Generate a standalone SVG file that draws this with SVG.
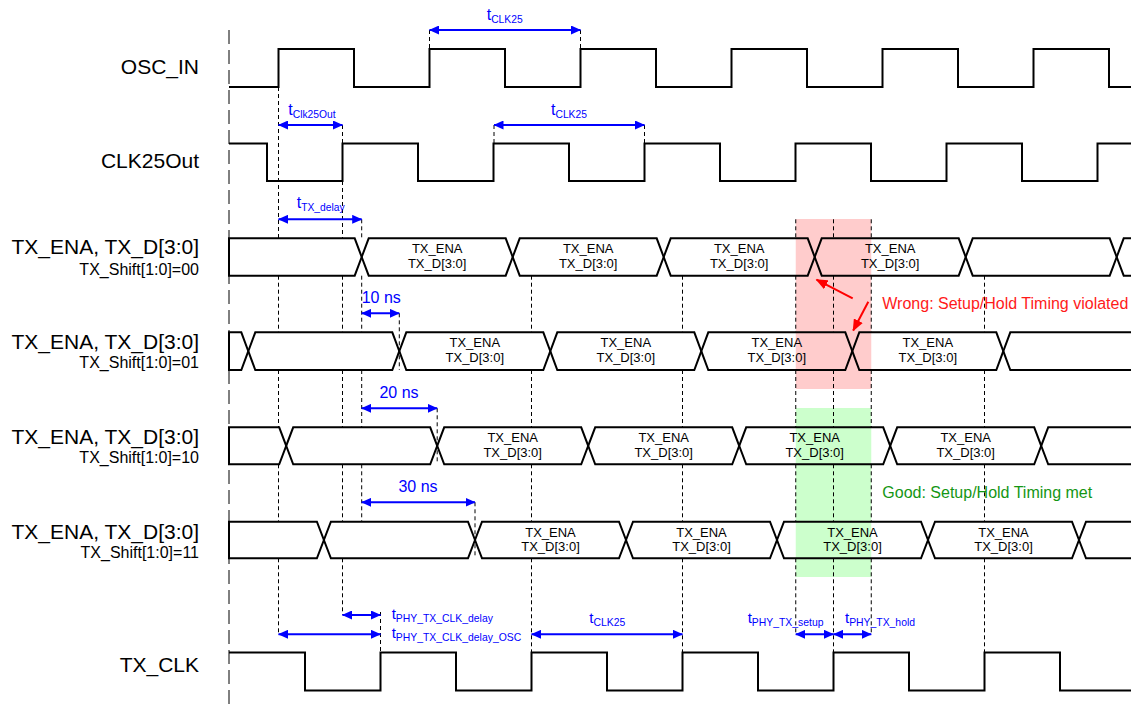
<svg xmlns="http://www.w3.org/2000/svg" width="1131" height="706" viewBox="0 0 1131 706">
<defs>
<style>
.lbl{font-family:"Liberation Sans",Arial,sans-serif;font-size:21px;fill:#000;text-anchor:end}
.sub{font-family:"Liberation Sans",Arial,sans-serif;font-size:16px;fill:#000;text-anchor:end}
.wave{fill:none;stroke:#000;stroke-width:2;stroke-linejoin:miter}
.cell{fill:none;stroke:#000;stroke-width:2;stroke-linejoin:miter}
.ct{font-family:"Liberation Sans",Arial,sans-serif;font-size:13px;fill:#000;text-anchor:middle}
.dash{fill:none;stroke:#000;stroke-width:1;stroke-dasharray:4 3}
.ldash{fill:none;stroke:#000;stroke-width:1;stroke-dasharray:14 6}
.dim{fill:none;stroke:#0000ff;stroke-width:2;marker-start:url(#ab);marker-end:url(#ab)}
.bt{font-family:"Liberation Sans",Arial,sans-serif;fill:#0000ff}
.red{fill:none;stroke:#ff0000;stroke-width:2;marker-end:url(#ar)}
</style>
<marker id="ab" viewBox="0 0 10 9" refX="9.5" refY="4.5" markerWidth="10" markerHeight="9" markerUnits="userSpaceOnUse" orient="auto-start-reverse"><path d="M0,0 L10,4.5 L0,9 z" fill="#0000ff"/></marker>
<marker id="ar" viewBox="0 0 12 10" refX="11" refY="5" markerWidth="12" markerHeight="10" markerUnits="userSpaceOnUse" orient="auto"><path d="M0,0 L12,5 L0,10 z" fill="#ff0000"/></marker>
</defs>
<rect width="1131" height="706" fill="#fff"/>

<g id="bands">
<rect x="795.75" y="219" width="75.5" height="170" fill="#ffcccc"/>
<rect x="795.75" y="408" width="75.5" height="169" fill="#ccffcc"/>
</g>

<g id="connectors">
<path class="ldash" d="M229,30 V706"/>
<path class="dash" d="M429.5,30 V49 M580.5,30 V49 M494,125 V143.5 M644.5,125 V143.5"/>
<path class="dash" d="M278.5,87 V238.3 M278.5,275.7 V332.3 M278.5,370 V427.3 M278.5,464.3 V521.7 M278.5,558.3 V634.3"/>
<path class="dash" d="M342.5,125 V238.3 M342.5,275.7 V332.3 M342.5,370 V427.3 M342.5,464.3 V521.7 M342.5,558.3 V615"/>
<path class="dash" d="M361.7,219.3 V238.3 M361.7,275.7 V332.3 M361.7,370 V427.3 M361.7,464.3 V521.7"/>
<path class="dash" d="M399.3,313.3 V370 M437.2,408.3 V464.3 M475,502.3 V558.3 M380.5,612 V652.5"/>
<path class="dash" d="M531.5,275.7 V332.3 M531.5,370 V427.3 M531.5,464.3 V521.7 M531.5,558.3 V652.5"/>
<path class="dash" d="M682.5,275.7 V332.3 M682.5,370 V427.3 M682.5,464.3 V521.7 M682.5,558.3 V652.5"/>
<path class="dash" d="M984.5,275.7 V332.3 M984.5,370 V427.3 M984.5,464.3 V521.7 M984.5,558.3 V652.5"/>
<path class="dash" d="M795.75,219.3 V238.3 M795.75,275.7 V332.3 M795.75,370 V427.3 M795.75,464.3 V521.7 M795.75,558.3 V634.3"/>
<path class="dash" d="M871.25,219.3 V238.3 M871.25,275.7 V332.3 M871.25,370 V427.3 M871.25,464.3 V521.7 M871.25,558.3 V634.3"/>
<path class="dash" d="M833.5,219.3 V238.3 M833.5,275.7 V332.3 M833.5,370 V427.3 M833.5,464.3 V521.7 M833.5,558.3 V652.5"/>

<path class="dim" d="M429.5,30 H580.5"/>
<path class="dim" d="M278.5,125 H342.5"/>
<path class="dim" d="M494,125 H644.5"/>
<path class="dim" d="M278.5,219.3 H361.7"/>
<path class="dim" d="M361.7,313.3 H399.3"/>
<path class="dim" d="M361.7,408.3 H437.2"/>
<path class="dim" d="M361.7,502.3 H475"/>
<path class="dim" d="M342.5,615 H380.5"/>
<path class="dim" d="M278.5,634.3 H380.5"/>
<path class="dim" d="M531.5,634.3 H682.5"/>
<path class="dim" d="M795.75,634.3 H833.5"/>
<path class="dim" d="M833.5,634.3 H871.25"/>

<path class="red" d="M852.7,298.3 L816.5,279.7"/>
<path class="red" d="M868.3,301.7 L853.2,330.5"/>
</g>

<g id="dim-labels">
<text class="bt" x="486.7" y="20" font-size="16">t<tspan font-size="10.3" dy="2.5">CLK25</tspan></text>
<text class="bt" x="288.3" y="115" font-size="16">t<tspan font-size="10.3" dy="2.5">Clk25Out</tspan></text>
<text class="bt" x="551" y="115" font-size="16">t<tspan font-size="10.3" dy="2.5">CLK25</tspan></text>
<text class="bt" x="296.7" y="208.3" font-size="16">t<tspan font-size="10.3" dy="2.5">TX_delay</tspan></text>
<text class="bt" x="361.7" y="302.7" font-size="16">10 ns</text>
<text class="bt" x="399" y="398.3" font-size="16" text-anchor="middle">20 ns</text>
<text class="bt" x="418" y="492.3" font-size="16" text-anchor="middle">30 ns</text>
<text class="bt" x="391.7" y="619" font-size="15">t<tspan font-size="10.4" dy="3">PHY_TX_CLK_delay</tspan></text>
<text class="bt" x="391.7" y="638.3" font-size="15">t<tspan font-size="10.4" dy="3">PHY_TX_CLK_delay_OSC</tspan></text>
<text class="bt" x="589.3" y="623" font-size="15">t<tspan font-size="10.4" dy="3">CLK25</tspan></text>
<text class="bt" x="747.7" y="623" font-size="15">t<tspan font-size="10.4" dy="3">PHY_TX_setup</tspan></text>
<text class="bt" x="845" y="623" font-size="15">t<tspan font-size="10.4" dy="3">PHY_TX_hold</tspan></text>
<text x="882.3" y="309" font-family="Liberation Sans, Arial, sans-serif" font-size="16" fill="#ff1a1a">Wrong: Setup/Hold Timing violated</text>
<text x="882.3" y="498" font-family="Liberation Sans, Arial, sans-serif" font-size="16" fill="#149614">Good: Setup/Hold Timing met</text>
</g>

<g id="osc_in">
<text class="lbl" x="199" y="74.3">OSC_IN</text>
<path class="wave" d="M229,87 H278.5 V49 H354 V87 H429.5 V49 H505 V87 H580.5 V49 H656 V87 H731.5 V49 H807 V87 H882.5 V49 H958 V87 H1033.5 V49 H1109 V87 H1131"/>
</g>

<g id="clk25out">
<text class="lbl" x="199" y="167.7">CLK25Out</text>
<path class="wave" d="M229,143.5 H267 V181 H342.5 V143.5 H418 V181 H493.5 V143.5 H569 V181 H644.5 V143.5 H720 V181 H795.5 V143.5 H871 V181 H946.5 V143.5 H1022 V181 H1097.5 V143.5 H1131"/>
</g>

<g id="tx_shift00">
<text class="lbl" x="199" y="254.3">TX_ENA, TX_D[3:0]</text>
<text class="sub" x="199" y="275">TX_Shift[1:0]=00</text>
<path class="cell" d="M229,238.3 H354.7 L361.7,257 L354.7,275.7 H229 Z"/>
<path class="cell" d="M368.7,238.3 H505.7 L512.7,257 L505.7,275.7 H368.7 L361.7,257 Z"/>
<path class="cell" d="M519.7,238.3 H656.7 L663.7,257 L656.7,275.7 H519.7 L512.7,257 Z"/>
<path class="cell" d="M670.7,238.3 H807.7 L814.7,257 L807.7,275.7 H670.7 L663.7,257 Z"/>
<path class="cell" d="M821.7,238.3 H958.7 L965.7,257 L958.7,275.7 H821.7 L814.7,257 Z"/>
<path class="cell" d="M972.7,238.3 H1109.7 L1116.7,257 L1109.7,275.7 H972.7 L965.7,257 Z"/>
<path class="cell" d="M1140,238.3 H1123.7 L1116.7,257 L1123.7,275.7 H1140"/>
<text class="ct" x="437.2" y="253.3">TX_ENA</text><text class="ct" x="437.2" y="267.8">TX_D[3:0]</text>
<text class="ct" x="588.2" y="253.3">TX_ENA</text><text class="ct" x="588.2" y="267.8">TX_D[3:0]</text>
<text class="ct" x="739.2" y="253.3">TX_ENA</text><text class="ct" x="739.2" y="267.8">TX_D[3:0]</text>
<text class="ct" x="890.2" y="253.3">TX_ENA</text><text class="ct" x="890.2" y="267.8">TX_D[3:0]</text>
</g>

<g id="tx_shift01">
<text class="lbl" x="199" y="349.3">TX_ENA, TX_D[3:0]</text>
<text class="sub" x="199" y="368.3">TX_Shift[1:0]=01</text>
<path class="cell" d="M229,332.3 H241.3 L248.3,351.15 L241.3,370 H229 Z"/>
<path class="cell" d="M255.3,332.3 H392.3 L399.3,351.15 L392.3,370 H255.3 L248.3,351.15 Z"/>
<path class="cell" d="M406.3,332.3 H543.3 L550.3,351.15 L543.3,370 H406.3 L399.3,351.15 Z"/>
<path class="cell" d="M557.3,332.3 H694.3 L701.3,351.15 L694.3,370 H557.3 L550.3,351.15 Z"/>
<path class="cell" d="M708.3,332.3 H845.3 L852.3,351.15 L845.3,370 H708.3 L701.3,351.15 Z"/>
<path class="cell" d="M859.3,332.3 H996.3 L1003.3,351.15 L996.3,370 H859.3 L852.3,351.15 Z"/>
<path class="cell" d="M1140,332.3 H1010.3 L1003.3,351.15 L1010.3,370 H1140"/>
<text class="ct" x="474.8" y="347.3">TX_ENA</text><text class="ct" x="474.8" y="361.8">TX_D[3:0]</text>
<text class="ct" x="625.8" y="347.3">TX_ENA</text><text class="ct" x="625.8" y="361.8">TX_D[3:0]</text>
<text class="ct" x="776.8" y="347.3">TX_ENA</text><text class="ct" x="776.8" y="361.8">TX_D[3:0]</text>
<text class="ct" x="927.8" y="347.3">TX_ENA</text><text class="ct" x="927.8" y="361.8">TX_D[3:0]</text>
</g>

<g id="tx_shift10">
<text class="lbl" x="199" y="444.3">TX_ENA, TX_D[3:0]</text>
<text class="sub" x="199" y="463.3">TX_Shift[1:0]=10</text>
<path class="cell" d="M229,427.3 H279.2 L286.2,445.8 L279.2,464.3 H229 Z"/>
<path class="cell" d="M293.2,427.3 H430.2 L437.2,445.8 L430.2,464.3 H293.2 L286.2,445.8 Z"/>
<path class="cell" d="M444.2,427.3 H581.2 L588.2,445.8 L581.2,464.3 H444.2 L437.2,445.8 Z"/>
<path class="cell" d="M595.2,427.3 H732.2 L739.2,445.8 L732.2,464.3 H595.2 L588.2,445.8 Z"/>
<path class="cell" d="M746.2,427.3 H883.2 L890.2,445.8 L883.2,464.3 H746.2 L739.2,445.8 Z"/>
<path class="cell" d="M897.2,427.3 H1034.2 L1041.2,445.8 L1034.2,464.3 H897.2 L890.2,445.8 Z"/>
<path class="cell" d="M1140,427.3 H1048.2 L1041.2,445.8 L1048.2,464.3 H1140"/>
<text class="ct" x="512.7" y="442.3">TX_ENA</text><text class="ct" x="512.7" y="456.8">TX_D[3:0]</text>
<text class="ct" x="663.7" y="442.3">TX_ENA</text><text class="ct" x="663.7" y="456.8">TX_D[3:0]</text>
<text class="ct" x="814.7" y="442.3">TX_ENA</text><text class="ct" x="814.7" y="456.8">TX_D[3:0]</text>
<text class="ct" x="965.7" y="442.3">TX_ENA</text><text class="ct" x="965.7" y="456.8">TX_D[3:0]</text>
</g>

<g id="tx_shift11">
<text class="lbl" x="199" y="539.3">TX_ENA, TX_D[3:0]</text>
<text class="sub" x="199" y="558.3">TX_Shift[1:0]=11</text>
<path class="cell" d="M229,521.7 H316.9 L323.9,540 L316.9,558.3 H229 Z"/>
<path class="cell" d="M330.9,521.7 H468 L475,540 L468,558.3 H330.9 L323.9,540 Z"/>
<path class="cell" d="M482,521.7 H619 L626,540 L619,558.3 H482 L475,540 Z"/>
<path class="cell" d="M633,521.7 H770 L777,540 L770,558.3 H633 L626,540 Z"/>
<path class="cell" d="M784,521.7 H921 L928,540 L921,558.3 H784 L777,540 Z"/>
<path class="cell" d="M935,521.7 H1072 L1079,540 L1072,558.3 H935 L928,540 Z"/>
<path class="cell" d="M1140,521.7 H1086 L1079,540 L1086,558.3 H1140"/>
<text class="ct" x="550.5" y="536.7">TX_ENA</text><text class="ct" x="550.5" y="551.2">TX_D[3:0]</text>
<text class="ct" x="701.5" y="536.7">TX_ENA</text><text class="ct" x="701.5" y="551.2">TX_D[3:0]</text>
<text class="ct" x="852.5" y="536.7">TX_ENA</text><text class="ct" x="852.5" y="551.2">TX_D[3:0]</text>
<text class="ct" x="1003.5" y="536.7">TX_ENA</text><text class="ct" x="1003.5" y="551.2">TX_D[3:0]</text>
</g>

<g id="tx_clk">
<text class="lbl" x="199" y="671.7">TX_CLK</text>
<path class="wave" d="M229,652.5 H305 V690.5 H380.5 V652.5 H456 V690.5 H531.5 V652.5 H607 V690.5 H682.5 V652.5 H758 V690.5 H833.5 V652.5 H909 V690.5 H984.5 V652.5 H1060 V690.5 H1131"/>
</g>
</svg>
